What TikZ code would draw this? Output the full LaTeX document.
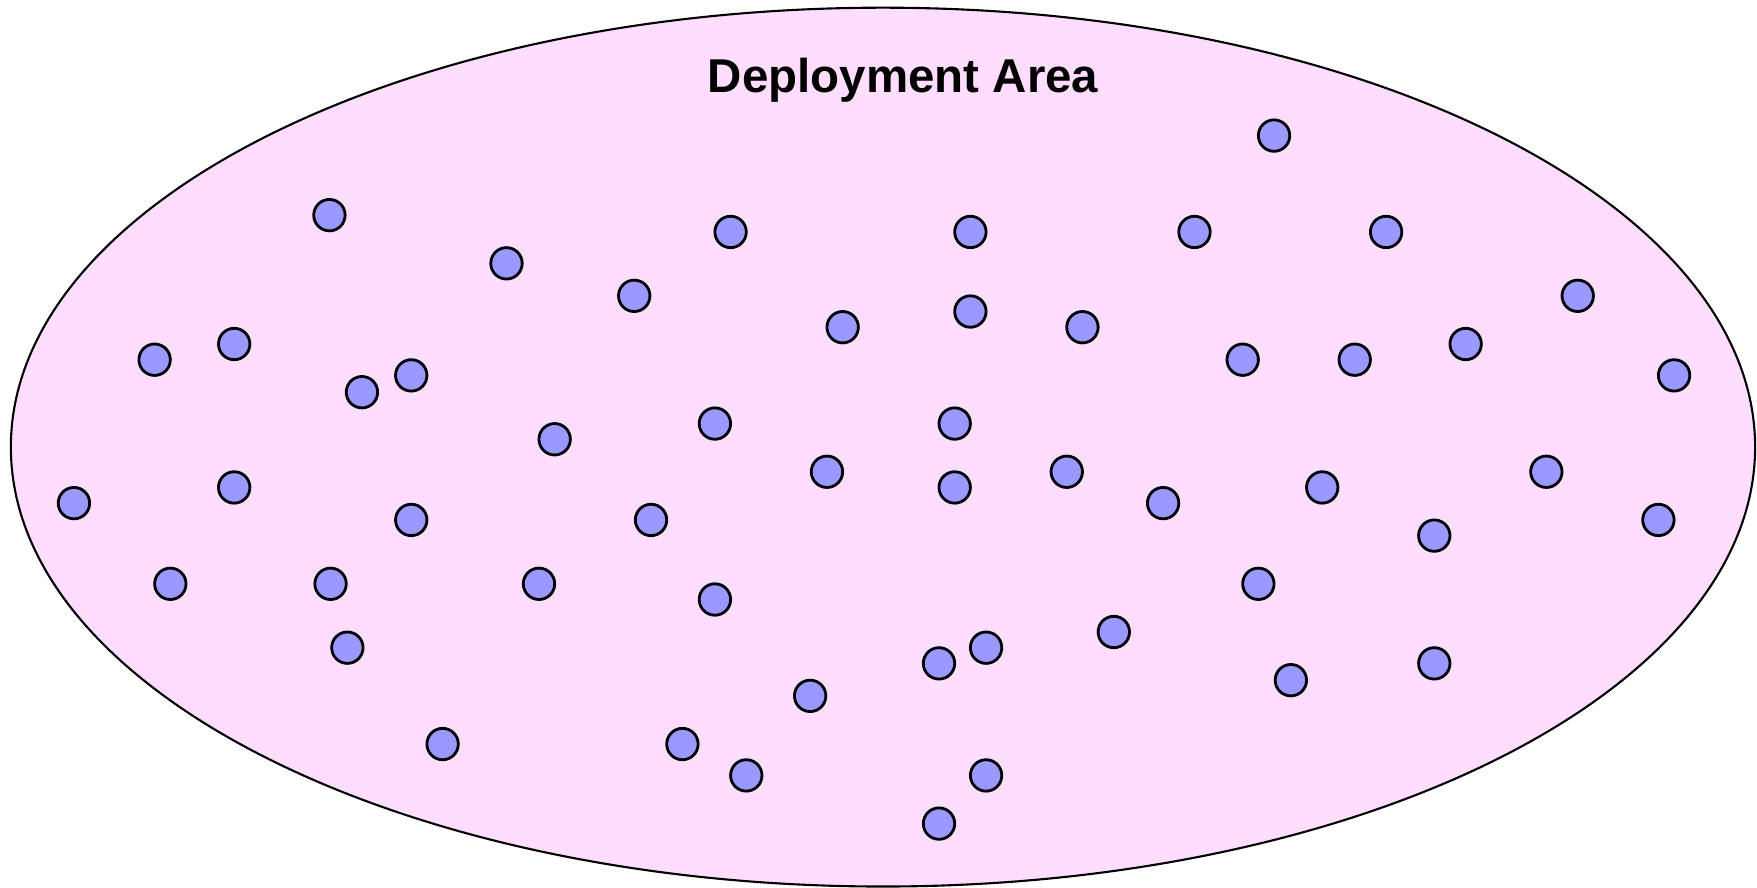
\documentclass[tikz,border=0pt]{standalone}
\usepackage{fontspec}
\newfontfamily\arealabelfont{Liberation Sans}
\definecolor{areapink}{HTML}{FFDDFF}
\definecolor{sensorblue}{HTML}{9999FF}
\tikzset{
  sensor/.style={circle, draw=black, line width=0.8pt, fill=sensorblue,
    minimum size=0.314cm, inner sep=0pt},
  area/.style={draw=black, line width=0.6pt, fill=areapink}
}
\begin{document}
\begin{tikzpicture}[x=0.011205cm, y=-0.011205cm]
      \useasboundingbox (0,0) rectangle (1568,792);
      \draw[area] (788,399) ellipse [x radius=8.717cm, y radius=4.392cm];
      \node[font=\arealabelfont\bfseries\fontsize{13.5}{16}\selectfont] (title) at (806,72) {Deployment Area};
      \draw
        (1137,121) node[sensor] (s1){}
        (294,192) node[sensor] (s2){}
        (652,207) node[sensor] (s3){}
        (866,207) node[sensor] (s4){}
        (1066,207) node[sensor] (s5){}
        (1237,207) node[sensor] (s6){}
        (452,235) node[sensor] (s7){}
        (566,264) node[sensor] (s8){}
        (1408,264) node[sensor] (s9){}
        (866,278) node[sensor] (s10){}
        (752,292) node[sensor] (s11){}
        (966,292) node[sensor] (s12){}
        (138,321) node[sensor] (s13){}
        (209,307) node[sensor] (s14){}
        (1109,321) node[sensor] (s15){}
        (1209,321) node[sensor] (s16){}
        (1308,307) node[sensor] (s17){}
        (323,350) node[sensor] (s18){}
        (367,335) node[sensor] (s19){}
        (1494,335) node[sensor] (s20){}
        (638,378) node[sensor] (s21){}
        (852,378) node[sensor] (s22){}
        (495,392) node[sensor] (s23){}
        (66,449) node[sensor] (s24){}
        (209,435) node[sensor] (s25){}
        (738,421) node[sensor] (s26){}
        (852,435) node[sensor] (s27){}
        (952,421) node[sensor] (s28){}
        (1038,449) node[sensor] (s29){}
        (1180,435) node[sensor] (s30){}
        (1380,421) node[sensor] (s31){}
        (367,464) node[sensor] (s32){}
        (581,464) node[sensor] (s33){}
        (1480,464) node[sensor] (s34){}
        (1280,478) node[sensor] (s35){}
        (152,521) node[sensor] (s36){}
        (295,521) node[sensor] (s37){}
        (481,521) node[sensor] (s38){}
        (1123,521) node[sensor] (s39){}
        (638,535) node[sensor] (s40){}
        (310,578) node[sensor] (s41){}
        (880,578) node[sensor] (s42){}
        (994,564) node[sensor] (s43){}
        (838,592) node[sensor] (s44){}
        (1280,592) node[sensor] (s45){}
        (1152,607) node[sensor] (s46){}
        (723,621) node[sensor] (s47){}
        (395,664) node[sensor] (s48){}
        (609,664) node[sensor] (s49){}
        (666,692) node[sensor] (s50){}
        (880,692) node[sensor] (s51){}
        (838,735) node[sensor] (s52){};
    \end{tikzpicture}
\end{document}
